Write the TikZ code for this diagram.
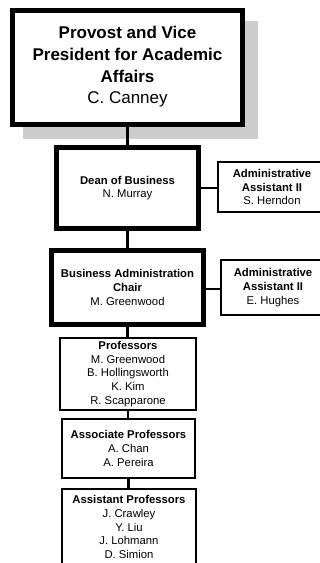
\documentclass[tikz,border=0pt]{standalone}
\usepackage{fontspec}
\setmainfont{Liberation Sans}
\definecolor{shadowgray}{HTML}{CDCDCD}
\tikzset{
  heavybox/.style={draw, line width=5pt, fill=white, inner sep=0pt, align=center},
  lightbox/.style={draw, line width=2pt, fill=white, inner sep=0pt, align=center},
  orgtext/.style={font=\fontsize{11.3}{13.7}\selectfont},
  link/.style={line width=2.2pt},
}
\begin{document}
\begin{tikzpicture}[x=1pt, y=-1pt]
\useasboundingbox (0,0) rectangle (320,563);
\clip (0,0) rectangle (320,563);

% drop shadow behind the top box
\fill[shadowgray] (23,21) rectangle (258,139);

% top level
\node[heavybox, minimum width=230pt, minimum height=114pt,
      font=\fontsize{17}{21.7}\selectfont\bfseries] (provost) at (127.5,67)
  {Provost and Vice\\President for Academic\\Affairs\\{\mdseries C. Canney}};

% dean and assistant
\node[heavybox, orgtext, minimum width=142.5pt, minimum height=81.5pt] (dean) at (127.5,188)
  {\textbf{Dean of Business}\\N. Murray};
\node[lightbox, orgtext, minimum width=108pt, minimum height=50pt] (asst1) at (272,187)
  {\textbf{Administrative}\\\textbf{Assistant II}\\S. Herndon};

% chair and assistant
\node[heavybox, orgtext, minimum width=152pt, minimum height=74pt] (chair) at (127.5,287.5)
  {\textbf{Business Administration}\\\textbf{Chair}\\M. Greenwood};
\node[lightbox, orgtext, minimum width=104pt, minimum height=55pt] (asst2) at (273,287.5)
  {\textbf{Administrative}\\\textbf{Assistant II}\\E. Hughes};

% faculty groups
\node[lightbox, orgtext, minimum width=136pt, minimum height=72pt] (prof) at (128,374)
  {\textbf{Professors}\\M. Greenwood\\B. Hollingsworth\\K. Kim\\R. Scapparone};
\node[lightbox, orgtext, minimum width=133pt, minimum height=59pt] (assoc) at (128.5,448.5)
  {\textbf{Associate Professors}\\A. Chan\\A. Pereira};
\node[lightbox, orgtext, minimum width=134pt, minimum height=76pt] (asstprof) at (129,527)
  {\textbf{Assistant Professors}\\J. Crawley\\Y. Liu\\J. Lohmann\\D. Simion};

% reporting lines
\draw[link] (provost.south) -- (dean.north);
\draw[link] (dean.south) -- (chair.north);
\draw[link] (chair.south) -- (chair.south |- prof.north);
\draw[link] (prof.south) -- (prof.south |- assoc.north);
\draw[link] (assoc.south) -- (assoc.south |- asstprof.north);
\draw[link] (dean.east |- 0,188) -- (asst1.west |- 0,188);
\draw[link] (chair.east |- 0,289) -- (asst2.west |- 0,289);
\end{tikzpicture}
\end{document}
